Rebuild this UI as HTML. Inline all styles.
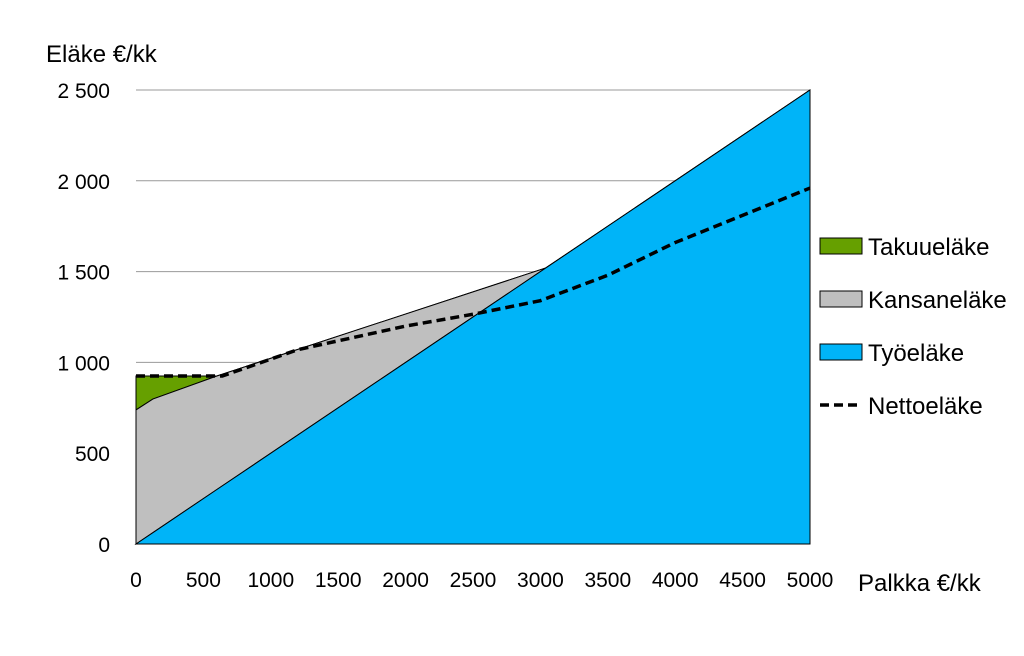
<!DOCTYPE html>
<html><head><meta charset="utf-8"><style>
body{margin:0;background:#fff}
svg text{font-family:"Liberation Sans",sans-serif;fill:#000}
</style></head><body>
<svg id="c" width="1024" height="651"></svg>
<script>
const palkka=[0,125,600,3040,5000];
const tyoelake=[0,62.5,300,1520,2500];
const kansanelake=[738,735.5,625,0,0];
const takuuelake=[187,127,0,0,0];
const nettoX=[0,640,1200,2000,2500,3000,3500,4000,5000];
const nettoY=[925,925,1070,1200,1265,1340,1480,1660,1960];
const yTicks=[0,500,1000,1500,2000,2500];
const yTickLabels=["0","500","1 000","1 500","2 000","2 500"];
const xTicks=[0,500,1000,1500,2000,2500,3000,3500,4000,4500,5000];
const NS="http://www.w3.org/2000/svg";
const svg=document.getElementById('c');
const X=v=>136+v/5000*674, Y=v=>544-v/2500*454;
function el(t,a,p){const e=document.createElementNS(NS,t);for(const k in a)e.setAttribute(k,a[k]);(p||svg).appendChild(e);return e;}
yTicks.forEach((t,i)=>{
 if(t>0){const g=el('line',{x1:136,x2:810,y1:Y(t),y2:Y(t),stroke:'#999','stroke-width':1});
 
 }
 const tx=el('text',{x:110,y:Y(t)+8,'text-anchor':'end','font-size':21});tx.textContent=yTickLabels[i];
 
 
});
xTicks.forEach(t=>{const tx=el('text',{x:X(t),y:587,'text-anchor':'middle','font-size':21});tx.textContent=t;
 
 });
function area(lo,hi,fill,name){
 let d='M'+palkka.map((p,i)=>X(p)+','+Y(hi[i])).join('L');
 for(let i=palkka.length-1;i>=0;i--)d+='L'+X(palkka[i])+','+Y(lo[i]);
 const a=el('path',{d:d+'Z',fill:fill,stroke:'#000','stroke-width':1});
 
 
}
const z=palkka.map(()=>0);
const s1=tyoelake.slice();
const s2=s1.map((v,i)=>v+kansanelake[i]);
const s3=s2.map((v,i)=>v+takuuelake[i]);
area(s2,s3,'#66a000','takuuelake-area');
area(s1,s2,'#bfbfbf','kansanelake-area');
area(z,s1,'#00b4f8','tyoelake-area');
const nl=el('polyline',{points:nettoX.map((p,i)=>X(p)+','+Y(nettoY[i])).join(' '),fill:'none',stroke:'#000','stroke-width':3.5,'stroke-dasharray':'9,5'});


const yt=el('text',{x:46,y:62,'font-size':24});yt.textContent='Eläke €/kk';

const xt=el('text',{x:858,y:591,'font-size':24});xt.textContent='Palkka €/kk';

const leg=[['Takuueläke','#66a000',246],['Kansaneläke','#bfbfbf',299],['Työeläke','#00b4f8',352]];
leg.forEach(l=>{
 const r=el('rect',{x:820,y:l[2]-8,width:42,height:16,fill:l[1],stroke:'#000','stroke-width':1});
 
 const t=el('text',{x:868,y:l[2]+9,'font-size':24});t.textContent=l[0];
 
});
const ll=el('line',{x1:820,x2:862,y1:405,y2:405,stroke:'#000','stroke-width':3.5,'stroke-dasharray':'9,5'});

const lt=el('text',{x:868,y:414,'font-size':24});lt.textContent='Nettoeläke';

</script>
</body></html>
